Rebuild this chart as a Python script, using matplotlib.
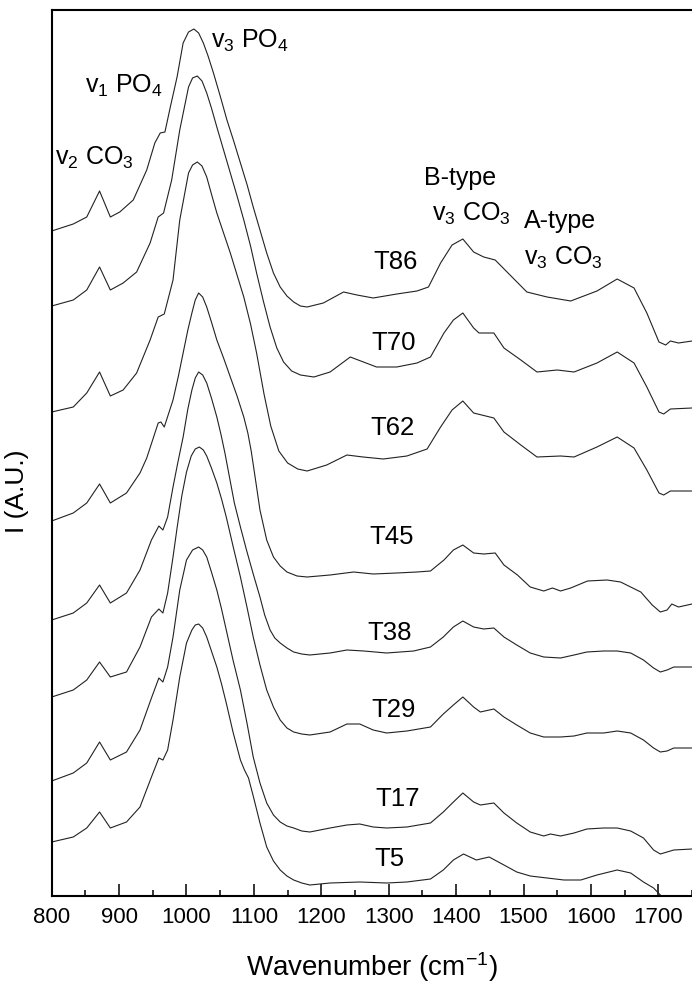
import matplotlib
matplotlib.use("Agg")
import matplotlib.pyplot as plt
from matplotlib.ticker import MultipleLocator

plt.rcParams['font.family'] = ['Liberation Sans', 'DejaVu Sans']
plt.rcParams['mathtext.fontset'] = 'custom'
plt.rcParams['mathtext.rm'] = 'Liberation Sans'
plt.rcParams['mathtext.it'] = 'Liberation Sans:italic'

# FTIR spectra, stacked (intensity in arbitrary units, offsets included)
wn_t86 = [800, 832, 852, 871, 887, 901, 921, 941, 953, 961, 968, 976, 986, 995, 1003, 1011, 1018, 1025,
          1032, 1040, 1050, 1060, 1070, 1080, 1090, 1099, 1109, 1119, 1129, 1139, 1149, 1159, 1169, 1179,
          1203, 1233, 1253, 1277, 1312, 1342, 1359, 1377, 1394, 1410, 1426, 1441, 1458, 1480, 1505, 1535,
          1570, 1609, 1639, 1664, 1683, 1701, 1711, 1718, 1730, 1750]
i_t86 = [665, 672, 679, 705, 679, 684, 696, 726, 753, 763, 764, 789, 819, 853, 864, 867, 863, 853,
         840, 823, 800, 776, 755, 733, 711, 689, 666, 643, 623, 609, 600, 594, 590, 589,
         593, 604, 601, 598, 602, 605, 609, 633, 651, 657, 644, 639, 636, 621, 604, 599,
         595, 605, 617, 608, 583, 554, 551, 555, 553, 555]

wn_t70 = [800, 832, 852, 871, 887, 906, 926, 946, 958, 966, 978, 990, 1003, 1009, 1016, 1023, 1030, 1037,
          1045, 1055, 1065, 1075, 1085, 1095, 1104, 1114, 1124, 1134, 1144, 1156, 1169, 1189, 1213, 1243,
          1282, 1312, 1342, 1362, 1382, 1396, 1410, 1426, 1434, 1456, 1471, 1496, 1520, 1550, 1575, 1609,
          1639, 1664, 1683, 1701, 1708, 1718, 1750]
i_t70 = [590, 596, 606, 629, 606, 613, 624, 653, 679, 683, 716, 766, 809, 818, 820, 815, 803, 788,
         769, 746, 723, 700, 676, 650, 623, 595, 569, 548, 534, 525, 521, 519, 524, 539,
         529, 529, 533, 539, 563, 576, 583, 568, 563, 563, 548, 536, 524, 526, 524, 533,
         544, 533, 509, 484, 482, 487, 488]

wn_t62 = [800, 832, 852, 871, 887, 906, 926, 946, 958, 967, 980, 990, 1003, 1009, 1016, 1023, 1030, 1037,
          1045, 1055, 1065, 1075, 1085, 1095, 1104, 1115, 1125, 1137, 1150, 1165, 1179, 1208, 1238, 1262,
          1292, 1327, 1357, 1377, 1394, 1410, 1426, 1456, 1471, 1496, 1520, 1555, 1575, 1609, 1639, 1664,
          1683, 1701, 1708, 1718, 1750]
i_t62 = [484, 489, 503, 524, 500, 506, 523, 556, 579, 582, 616, 676, 723, 731, 734, 730, 719, 702,
         683, 663, 643, 621, 599, 572, 543, 502, 470, 445, 433, 427, 425, 431, 441, 439,
         437, 440, 447, 469, 486, 495, 483, 478, 464, 451, 439, 440, 439, 449, 459, 448,
         426, 403, 401, 405, 405]

wn_t45 = [800, 832, 852, 871, 887, 911, 931, 941, 958, 962, 967, 980, 988, 995, 1002, 1008, 1013, 1018,
          1024, 1030, 1037, 1045, 1055, 1065, 1075, 1085, 1091, 1096, 1102, 1109, 1119, 1129, 1139, 1149,
          1164, 1179, 1213, 1248, 1277, 1312, 1342, 1362, 1382, 1396, 1410, 1426, 1441, 1458, 1471, 1491,
          1510, 1530, 1543, 1555, 1570, 1595, 1624, 1644, 1674, 1691, 1703, 1713, 1720, 1730, 1750]
i_t45 = [375, 383, 393, 412, 393, 403, 423, 438, 473, 474, 469, 496, 520, 543, 566, 583, 596, 603,
         599, 589, 574, 556, 538, 519, 500, 479, 463, 445, 418, 386, 356, 339, 330, 324,
         320, 319, 321, 324, 322, 323, 324, 325, 336, 346, 351, 343, 342, 343, 331, 321,
         309, 305, 308, 305, 308, 315, 316, 314, 304, 291, 284, 286, 292, 289, 292]

wn_t38 = [800, 832, 852, 871, 887, 911, 931, 948, 959, 965, 972, 980, 987, 995, 1002, 1008, 1013, 1018,
          1024, 1030, 1037, 1045, 1051, 1057, 1064, 1071, 1080, 1089, 1099, 1109, 1116, 1124, 1131, 1139,
          1149, 1159, 1171, 1183, 1213, 1238, 1263, 1297, 1337, 1362, 1381, 1396, 1410, 1426, 1441, 1456,
          1471, 1490, 1510, 1530, 1555, 1575, 1594, 1619, 1639, 1659, 1678, 1693, 1703, 1713, 1723, 1750]
i_t38 = [276, 283, 293, 311, 293, 303, 326, 356, 370, 366, 379, 409, 433, 459, 487, 506, 518, 524,
         521, 513, 498, 479, 462, 443, 418, 393, 369, 346, 322, 299, 281, 266, 258, 253,
         248, 244, 242, 241, 243, 246, 245, 243, 245, 249, 259, 269, 275, 269, 267, 268,
         259, 251, 243, 239, 238, 241, 244, 245, 245, 243, 236, 228, 224, 226, 229, 229]

wn_t29 = [800, 832, 852, 871, 887, 911, 931, 948, 959, 965, 972, 980, 986, 993, 1000, 1007, 1013, 1019,
          1025, 1030, 1037, 1045, 1052, 1059, 1069, 1080, 1090, 1099, 1109, 1119, 1129, 1139, 1149, 1159,
          1171, 1183, 1213, 1238, 1257, 1277, 1297, 1327, 1362, 1381, 1396, 1410, 1426, 1436, 1456, 1471,
          1490, 1510, 1530, 1555, 1575, 1594, 1619, 1639, 1659, 1678, 1693, 1703, 1713, 1723, 1750]
i_t29 = [199, 206, 216, 234, 219, 224, 249, 279, 287, 283, 303, 339, 368, 400, 424, 440, 447, 449,
         446, 440, 428, 413, 397, 379, 350, 319, 288, 259, 231, 206, 189, 176, 168, 164,
         162, 161, 164, 172, 172, 166, 163, 165, 169, 182, 191, 199, 189, 184, 187, 179,
         171, 163, 159, 159, 160, 163, 163, 165, 163, 156, 148, 144, 145, 148, 148]

wn_t17 = [800, 832, 852, 871, 887, 911, 931, 948, 959, 965, 972, 980, 990, 1000, 1009, 1018, 1024, 1030,
          1037, 1045, 1052, 1059, 1069, 1080, 1090, 1099, 1109, 1119, 1129, 1139, 1149, 1159, 1171, 1183,
          1213, 1238, 1257, 1277, 1297, 1327, 1362, 1381, 1396, 1410, 1426, 1436, 1456, 1471, 1490, 1510,
          1530, 1540, 1555, 1575, 1594, 1619, 1639, 1659, 1678, 1693, 1703, 1713, 1723, 1750]
i_t17 = [115, 123, 133, 154, 136, 144, 166, 198, 218, 214, 229, 259, 306, 336, 346, 349, 346, 339,
         324, 306, 287, 266, 236, 206, 172, 139, 113, 93, 81, 74, 70, 68, 65, 64,
         68, 71, 72, 69, 68, 69, 73, 84, 94, 103, 94, 91, 93, 83, 73, 64,
         60, 62, 60, 63, 67, 68, 68, 65, 58, 46, 42, 44, 46, 47]

wn_t5 = [800, 832, 852, 871, 887, 911, 931, 948, 959, 965, 972, 980, 990, 1000, 1008, 1013, 1018, 1024,
         1030, 1037, 1045, 1052, 1059, 1069, 1080, 1086, 1092, 1099, 1109, 1119, 1129, 1139, 1149, 1159,
         1171, 1183, 1213, 1257, 1297, 1327, 1362, 1381, 1396, 1411, 1430, 1449, 1471, 1490, 1510, 1535,
         1560, 1585, 1609, 1639, 1659, 1678, 1693, 1703, 1715, 1750]
i_t5 = [54, 59, 68, 84, 68, 74, 89, 119, 138, 136, 146, 176, 219, 253, 266, 271, 272, 268,
        259, 245, 229, 212, 193, 164, 136, 126, 118, 100, 73, 49, 35, 26, 20, 16,
        13, 11, 13, 14, 13, 14, 17, 26, 36, 42, 36, 39, 31, 24, 20, 18,
        16, 16, 21, 26, 23, 14, 8, 1, -10, -40]

sample_names = ['T86', 'T70', 'T62', 'T45', 'T38', 'T29', 'T17', 'T5']
# where each sample name is written (wavenumber, intensity)
name_x = [1310, 1307, 1305, 1304, 1302, 1307, 1313, 1301]
name_y = [634, 553, 468, 359, 263, 186, 97, 37]

spectra = [(wn_t86, i_t86), (wn_t70, i_t70), (wn_t62, i_t62), (wn_t45, i_t45),
           (wn_t38, i_t38), (wn_t29, i_t29), (wn_t17, i_t17), (wn_t5, i_t5)]

fig = plt.figure(figsize=(6.92, 9.86), dpi=100)
ax = fig.add_axes([51.7 / 692, 90 / 986, 1 - 51.7 / 692, 886 / 986])

for (wn, inten), name, tx, ty in zip(spectra, sample_names, name_x, name_y):
    ax.plot(wn, inten, color='#222222', lw=0.8, solid_joinstyle='round')
    ax.text(tx, ty, name, fontsize=18.5, ha='center', va='center')

# band assignments
ax.text(805, 731, r'v$_2$ CO$_3$', fontsize=18)
ax.text(850, 803, r'v$_1$ PO$_4$', fontsize=18)
ax.text(1036, 848, r'v$_3$ PO$_4$', fontsize=18)
ax.text(1352, 711, 'B-type', fontsize=18)
ax.text(1364, 675, r'v$_3$ CO$_3$', fontsize=18)
ax.text(1500, 668, 'A-type', fontsize=18)
ax.text(1500, 631, r'v$_3$ CO$_3$', fontsize=18)

ax.set_xlim(800, 1750)
ax.set_ylim(0, 886)
ax.xaxis.set_major_locator(MultipleLocator(100))
ax.xaxis.set_minor_locator(MultipleLocator(50))
ax.tick_params(axis='x', which='major', direction='in', length=8.5, width=1.1, labelsize=16, pad=8)
ax.tick_params(axis='x', which='minor', direction='in', length=4.3, width=1.1)
ax.set_yticks([])
ax.spines['right'].set_visible(False)
for side in ['left', 'top', 'bottom']:
    ax.spines[side].set_linewidth(1.5)

ax.set_xlabel(r'Wavenumber (cm$^{-1}$)', fontsize=20, labelpad=16)
fig.text(17 / 692, 1 - 491 / 986, 'I (A.U.)', fontsize=19, rotation=90, ha='center', va='center')

fig.savefig('out.png', dpi=100)
